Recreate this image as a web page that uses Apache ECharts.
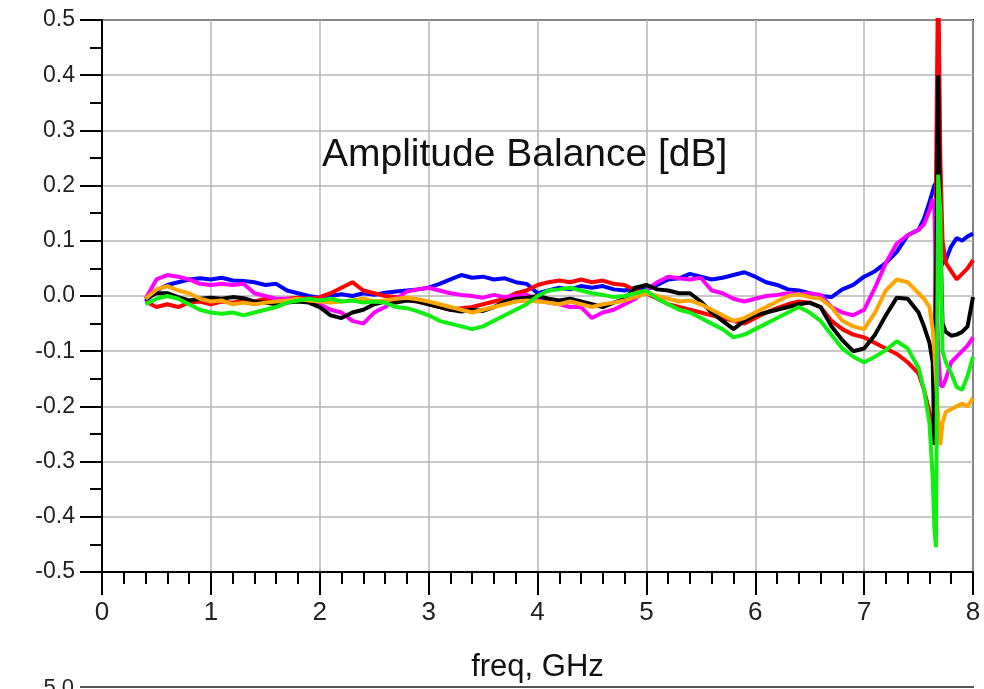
<!DOCTYPE html>
<html>
<head>
<meta charset="utf-8">
<script src="https://cdn.jsdelivr.net/npm/echarts@6/dist/echarts.min.js"></script>
<style>html,body{margin:0;padding:0;background:#fff;}#c{width:984px;height:689px;}</style>
</head>
<body>
<div id="c"></div>
<script>
// frequency points (GHz)
const freq = [0.4,0.5,0.6,0.7,0.8,0.9,1.0,1.1,1.2,1.3,1.4,1.5,1.6,1.7,1.8,1.9,2.0,2.1,2.2,2.3,2.4,2.5,2.6,2.7,2.8,2.9,3.0,3.1,3.2,3.3,3.4,3.5,3.6,3.7,3.8,3.9,4.0,4.1,4.2,4.3,4.4,4.5,4.6,4.7,4.8,4.9,5.0,5.1,5.2,5.3,5.4,5.5,5.6,5.7,5.8,5.9,6.0,6.1,6.2,6.3,6.4,6.5,6.6,6.7,6.8,6.9,7.0,7.1,7.2,7.3,7.4,7.5,
  7.55,7.6,7.63,7.645,7.66,7.68,7.70,7.72,7.75,7.8,7.85,7.9,7.95,8.0];

const blue = [-0.01,0.01,0.02,0.025,0.03,0.032,0.03,0.033,0.028,0.027,0.025,0.02,0.022,0.01,0.005,0.0,-0.003,0.0,0.003,0.0,0.005,0.002,0.006,0.008,0.01,0.012,0.015,0.022,0.03,0.038,0.033,0.035,0.03,0.032,0.025,0.022,0.005,0.01,0.015,0.012,0.018,0.015,0.018,0.012,0.01,0.015,0.012,0.02,0.03,0.032,0.04,0.035,0.03,0.033,0.038,0.043,0.035,0.025,0.02,0.012,0.01,0.005,0.0,-0.002,0.012,0.02,0.035,0.045,0.06,0.08,0.11,0.12,
  0.14,0.17,0.19,0.2,0.205,0.12,0.05,0.06,0.065,0.09,0.105,0.1,0.108,0.113];

const red = [-0.01,-0.02,-0.015,-0.02,-0.012,-0.01,-0.015,-0.01,-0.012,-0.008,-0.01,-0.005,-0.008,-0.005,-0.003,-0.005,-0.002,0.005,0.015,0.025,0.01,0.005,0.0,-0.002,-0.005,-0.01,-0.015,-0.02,-0.025,-0.022,-0.02,-0.015,-0.01,-0.005,0.005,0.01,0.02,0.025,0.028,0.025,0.03,0.025,0.028,0.022,0.02,0.01,0.005,-0.005,-0.015,-0.02,-0.025,-0.03,-0.035,-0.04,-0.045,-0.05,-0.04,-0.03,-0.022,-0.015,-0.01,-0.012,-0.02,-0.045,-0.06,-0.07,-0.075,-0.085,-0.095,-0.105,-0.12,-0.14,
  -0.17,-0.21,-0.25,-0.2,0.2,0.6,0.25,0.1,0.06,0.045,0.03,0.04,0.05,0.065];

const magenta = [-0.005,0.03,0.038,0.035,0.03,0.022,0.02,0.022,0.02,0.022,0.005,0.0,-0.005,-0.005,-0.008,-0.01,-0.015,-0.025,-0.03,-0.045,-0.05,-0.03,-0.02,-0.005,0.008,0.012,0.015,0.01,0.005,0.002,0.0,-0.003,0.002,-0.002,0.0,0.002,-0.005,-0.012,-0.015,-0.02,-0.02,-0.04,-0.03,-0.025,-0.015,-0.005,0.01,0.025,0.035,0.032,0.03,0.033,0.01,0.005,-0.005,-0.01,-0.005,0.0,0.002,0.005,0.003,0.005,0.002,-0.02,-0.03,-0.035,-0.025,0.015,0.06,0.095,0.11,0.12,
  0.13,0.155,0.175,0.16,0.05,-0.1,-0.16,-0.165,-0.15,-0.12,-0.11,-0.1,-0.09,-0.075];

const black = [-0.005,0.005,0.005,-0.002,-0.008,-0.005,-0.003,-0.005,-0.002,-0.004,-0.01,-0.012,-0.015,-0.012,-0.01,-0.012,-0.02,-0.035,-0.04,-0.03,-0.025,-0.015,-0.01,-0.012,-0.008,-0.01,-0.015,-0.02,-0.025,-0.028,-0.025,-0.027,-0.02,-0.01,-0.005,-0.003,0.0,-0.005,-0.008,-0.005,-0.01,-0.015,-0.02,-0.012,-0.005,0.015,0.02,0.012,0.01,0.005,0.005,-0.01,-0.03,-0.045,-0.06,-0.045,-0.035,-0.03,-0.025,-0.02,-0.015,-0.012,-0.02,-0.055,-0.08,-0.1,-0.095,-0.07,-0.035,-0.003,-0.005,-0.03,
  -0.055,-0.085,-0.12,-0.27,0.0,0.4,0.1,-0.05,-0.065,-0.072,-0.07,-0.065,-0.055,-0.002];

const orange = [-0.005,0.012,0.018,0.01,0.005,-0.005,-0.01,-0.008,-0.015,-0.012,-0.015,-0.012,-0.01,-0.008,-0.005,-0.008,-0.01,-0.012,-0.01,-0.008,-0.005,-0.01,-0.008,-0.005,-0.003,-0.006,-0.01,-0.015,-0.02,-0.025,-0.03,-0.025,-0.02,-0.015,-0.01,-0.008,-0.01,-0.012,-0.015,-0.01,-0.015,-0.02,-0.015,-0.012,-0.008,-0.002,0.005,0.0,-0.005,-0.01,-0.008,-0.015,-0.025,-0.035,-0.045,-0.04,-0.03,-0.02,-0.01,0.0,0.003,-0.002,-0.005,-0.02,-0.045,-0.055,-0.06,-0.03,0.01,0.03,0.025,0.005,
  -0.005,-0.02,-0.06,-0.1,-0.15,-0.22,-0.27,-0.23,-0.21,-0.205,-0.2,-0.195,-0.2,-0.185];

const green = [-0.015,-0.005,0.0,-0.005,-0.015,-0.025,-0.03,-0.032,-0.03,-0.035,-0.03,-0.025,-0.02,-0.012,-0.008,-0.005,-0.008,-0.005,-0.01,-0.008,-0.012,-0.01,-0.012,-0.02,-0.022,-0.028,-0.035,-0.045,-0.05,-0.055,-0.06,-0.055,-0.045,-0.035,-0.025,-0.015,0.0,0.01,0.012,0.015,0.01,0.005,0.002,-0.002,0.0,0.005,0.01,-0.005,-0.015,-0.025,-0.03,-0.04,-0.05,-0.06,-0.075,-0.07,-0.06,-0.05,-0.04,-0.03,-0.02,-0.03,-0.045,-0.07,-0.095,-0.11,-0.12,-0.11,-0.098,-0.082,-0.095,-0.13,
  -0.17,-0.23,-0.33,-0.42,-0.455,0.22,0.15,-0.1,-0.12,-0.14,-0.165,-0.17,-0.145,-0.11];

const xTicks = [0,1,2,3,4,5,6,7,8];
const yTicks = ['-0.5','-0.4','-0.3','-0.2','-0.1','0.0','0.1','0.2','0.3','0.4','0.5'];

const seriesDefs = [
  {name:'blue', data: blue, color:'#0000ff'},
  {name:'red', data: red, color:'#ff0000'},
  {name:'magenta', data: magenta, color:'#ff00ff'},
  {name:'black', data: black, color:'#000000'},
  {name:'orange', data: orange, color:'#ffa500'},
  {name:'green', data: green, color:'#11ee11'}
];

const FONT = "'Liberation Sans', Arial, sans-serif";
const chart = echarts.init(document.getElementById('c'), null, {renderer:'canvas'});

chart.setOption({
  animation: false,
  backgroundColor: '#ffffff',
  title: {
    text: 'Amplitude Balance [dB]',
    left: 317, top: 131,
    textStyle: {fontSize: 39, fontWeight: 'normal', color: '#111', fontFamily: FONT}
  },
  grid: {left: 102, top: 20, width: 871, height: 552, show: true, borderColor: '#000', borderWidth: 2, backgroundColor: 'transparent'},
  xAxis: {
    type: 'value', min: 0, max: 8, interval: 1,
    name: 'freq, GHz', nameLocation: 'middle', nameGap: 80,
    nameTextStyle: {fontSize: 31, color: '#111', fontFamily: FONT},
    axisLine: {show: true, onZero: false, lineStyle: {color: '#000', width: 2}},
    axisTick: {show: true, length: 23, lineStyle: {color: '#000', width: 2}},
    minorTick: {show: true, splitNumber: 5, length: 12, lineStyle: {color: '#000', width: 2}},
    splitLine: {show: true, lineStyle: {color: '#b4b4b4', width: 1.5}},
    axisLabel: {margin: 28, fontSize: 26, color: '#222', fontFamily: FONT,
      formatter: v => { const i = xTicks.indexOf(Math.round(v)); return i >= 0 ? String(xTicks[i]) : ''; }}
  },
  yAxis: {
    type: 'value', min: -0.5, max: 0.5, interval: 0.1,
    axisLine: {show: true, onZero: false, lineStyle: {color: '#000', width: 2}},
    axisTick: {show: true, length: 22, lineStyle: {color: '#000', width: 2}},
    minorTick: {show: true, splitNumber: 2, length: 12, lineStyle: {color: '#000', width: 2}},
    splitLine: {show: true, lineStyle: {color: '#b4b4b4', width: 1.5}},
    axisLabel: {margin: 27, fontSize: 23, color: '#222', fontFamily: FONT,
      formatter: v => yTicks[Math.round((v + 0.5) * 10)] || ''}
  },
  series: seriesDefs.map((s, k) => ({
    type: 'line', name: s.name,
    data: freq.map((f, i) => [f, s.data[i]]),
    showSymbol: false, symbol: 'none', clip: true, z: 2 + k,
    lineStyle: {color: s.color, width: 4},
    itemStyle: {color: s.color}
  })),
  graphic: [
    {type: 'line', shape: {x1: 80, y1: 687, x2: 974, y2: 687}, style: {stroke: '#555', lineWidth: 2}, z: 10},
    {type: 'text', x: 74, y: 677, style: {text: '5.0', fontSize: 22, fill: '#222', fontFamily: FONT, textAlign: 'right', textVerticalAlign: 'top'}, z: 10}
  ]
});
</script>
</body>
</html>
